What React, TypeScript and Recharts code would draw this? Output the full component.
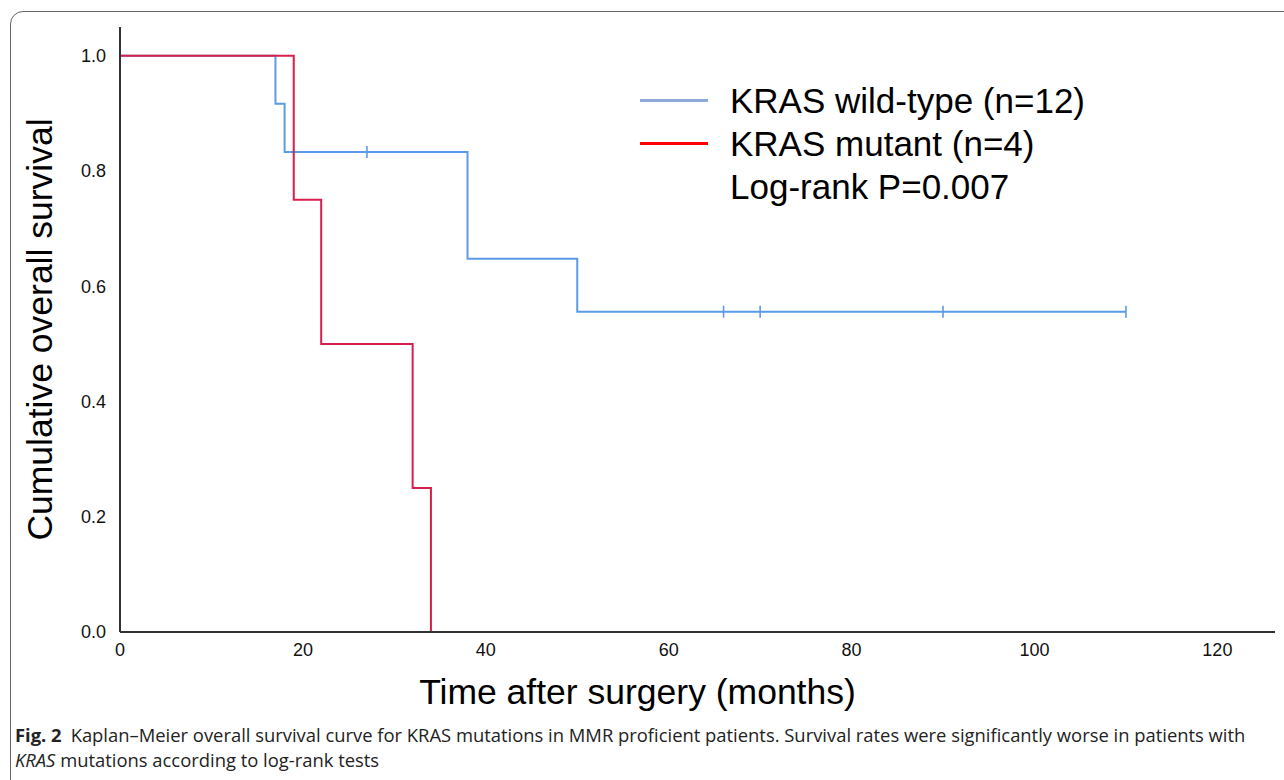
import React from "react";
import { ComposedChart, Line, Scatter, XAxis, YAxis } from "recharts";

// survival steps (months, cumulative survival)
const wildTypeSteps = [
  { t: 0, s: 1.0 },
  { t: 17, s: 0.917 },
  { t: 18, s: 0.833 },
  { t: 38, s: 0.648 },
  { t: 50, s: 0.556 },
  { t: 110, s: 0.556 },
];

const mutantSteps = [
  { t: 0, s: 1.0 },
  { t: 19, s: 0.75 },
  { t: 22, s: 0.5 },
  { t: 32, s: 0.25 },
  { t: 34, s: 0.0 },
];

// censored patients (wild-type only)
const wildTypeCensored = [
  { t: 27, s: 0.833 },
  { t: 66, s: 0.556 },
  { t: 70, s: 0.556 },
  { t: 90, s: 0.556 },
  { t: 110, s: 0.556 },
];

const xTicks = [0, 20, 40, 60, 80, 100, 120];
const yTicks = [0, 0.2, 0.4, 0.6, 0.8, 1.0];

const legendItems = [
  { label: "KRAS wild-type (n=12)", color: "#8eaadb" },
  { label: "KRAS mutant (n=4)", color: "#ff0000" },
];
const pValueText = "Log-rank P=0.007";

const BLUE = "#5b9be8";
const RED = "#d81f4b";
const FONT = "Liberation Sans, Arial, sans-serif";

const CensorMark = (props: any) => {
  const { cx, cy } = props;
  return <line x1={cx} x2={cx} y1={cy - 6} y2={cy + 6} stroke={BLUE} strokeWidth={1.6} />;
};

// x label sits left of the plot centre in the original
const XLabel = (props: any) => {
  const { viewBox } = props;
  return (
    <text
      x={viewBox.x + viewBox.width / 2 - 60}
      y={viewBox.y + 60}
      textAnchor="middle"
      dominantBaseline="central"
      fill="#000"
      fontSize={35.5}
      fontFamily={FONT}
    >
      Time after surgery (months)
    </text>
  );
};

// legend drawn as overlay so it doesn't eat plot space
const KmLegend = () => (
  <div
    style={{
      position: "absolute",
      left: 640,
      top: 79,
      fontFamily: FONT,
      fontSize: 35,
      color: "#000",
      lineHeight: "43px",
      whiteSpace: "nowrap",
    }}
  >
    {legendItems.map((it) => (
      <div key={it.label} style={{ display: "flex", alignItems: "center" }}>
        <span
          style={{
            display: "inline-block",
            width: 68,
            height: 3,
            background: it.color,
            marginRight: 22,
          }}
        />
        <span>{it.label}</span>
      </div>
    ))}
    <div style={{ paddingLeft: 90 }}>{pValueText}</div>
  </div>
);

export default function App() {
  return (
    <div
      style={{
        position: "absolute",
        left: 0,
        top: 0,
        width: 1284,
        height: 780,
        overflow: "hidden",
        background: "#fff",
      }}
    >
      <div
        style={{
          position: "absolute",
          left: 10,
          top: 11,
          width: 1300,
          height: 800,
          border: "1.5px solid #666",
          borderRadius: 13,
        }}
      />
      <div style={{ position: "absolute", left: 0, top: 0 }}>
        <ComposedChart
          width={1284}
          height={720}
          margin={{ top: 27, right: 9, bottom: 8, left: 60 }}
        >
          <XAxis
            type="number"
            dataKey="t"
            domain={[0, 126.3]}
            ticks={xTicks}
            allowDataOverflow
            tickLine={false}
            axisLine={{ stroke: "#333", strokeWidth: 2 }}
            tick={{ fill: "#111", fontSize: 18, fontFamily: FONT }}
            tickMargin={5}
            height={80}
            label={<XLabel />}
          />
          <YAxis
            type="number"
            dataKey="s"
            domain={[0, 1.05]}
            ticks={yTicks}
            allowDataOverflow
            tickFormatter={(v: number) => v.toFixed(1)}
            tickLine={false}
            axisLine={{ stroke: "#333", strokeWidth: 2 }}
            tick={{ fill: "#111", fontSize: 18, fontFamily: FONT }}
            tickMargin={8}
            width={60}
            label={{
              value: "Cumulative overall survival",
              angle: -90,
              position: "insideLeft",
              offset: -21,
              style: { textAnchor: "middle", fill: "#000", fontSize: 35.5, fontFamily: FONT },
            }}
          />
          <Line
            data={wildTypeSteps}
            dataKey="s"
            type="stepAfter"
            stroke={BLUE}
            strokeWidth={2}
            dot={false}
            isAnimationActive={false}
          />
          <Line
            data={mutantSteps}
            dataKey="s"
            type="stepAfter"
            stroke={RED}
            strokeWidth={2}
            dot={false}
            isAnimationActive={false}
          />
          <Scatter
            data={wildTypeCensored}
            dataKey="s"
            shape={<CensorMark />}
            isAnimationActive={false}
          />
        </ComposedChart>
      </div>
      <KmLegend />
      <div
        style={{
          position: "absolute",
          left: 15,
          top: 722,
          fontFamily: "Open Sans, sans-serif",
          fontSize: 18.4,
          lineHeight: "25px",
          color: "#222",
          whiteSpace: "nowrap",
        }}
      >
        <div>
          <b>Fig. 2</b>
          <span style={{ marginLeft: 9 }}>
            Kaplan–Meier overall survival curve for KRAS mutations in MMR proficient patients.
            Survival rates were significantly worse in patients with
          </span>
        </div>
        <div>
          <i>KRAS</i> mutations according to log-rank tests
        </div>
      </div>
    </div>
  );
}
